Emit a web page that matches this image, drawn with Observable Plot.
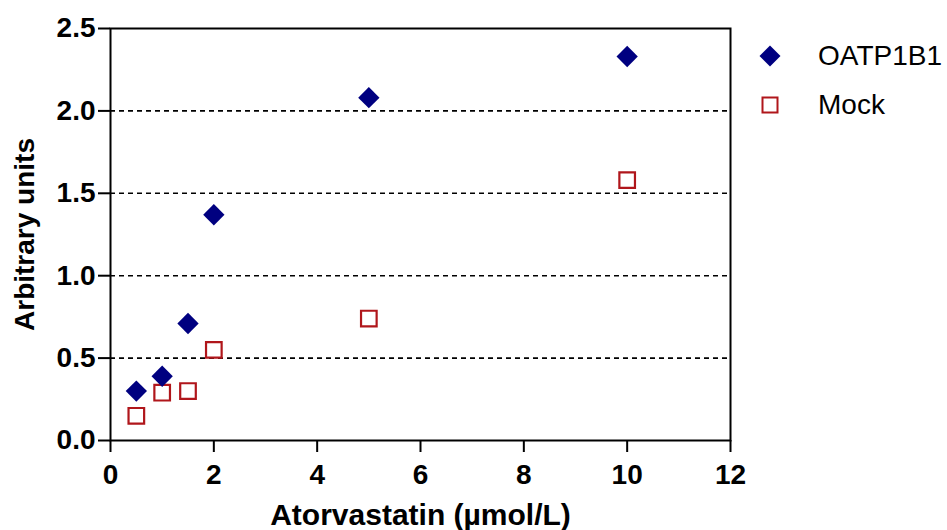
<!DOCTYPE html>
<html>
<head>
<meta charset="utf-8">
<script src="https://cdn.jsdelivr.net/npm/d3@7"></script>
<script src="https://cdn.jsdelivr.net/npm/@observablehq/plot@0.6"></script>
<style>
  html, body { margin: 0; padding: 0; background: #fff; }
  #wrap { position: relative; width: 947px; height: 530px; font-family: "Liberation Sans", Arial, sans-serif; }
  .leg { position: absolute; left: 758px; display: flex; align-items: center; font-size: 28px; color: #000; white-space: nowrap; }
  .leg svg { margin-right: 36px; }
</style>
</head>
<body>
<div id="wrap"></div>
<script>
// Data
const concentrations = [0.5, 1, 1.5, 2, 5, 10];
const oatp1b1 = [0.30, 0.39, 0.71, 1.37, 2.08, 2.33];
const mock = [0.15, 0.29, 0.30, 0.55, 0.74, 1.58];
const seriesNames = ["OATP1B1", "Mock"];
const xTicks = [0, 2, 4, 6, 8, 10, 12];
const yTicks = [0, 0.5, 1.0, 1.5, 2.0, 2.5];
const gridValues = [0.5, 1.0, 1.5, 2.0];
const xTitle = "Atorvastatin (µmol/L)";
const yTitle = "Arbitrary units";

const blue = "#000080";
const red = "#B0161B";

const oatpData = concentrations.map((c, i) => ({x: c, y: oatp1b1[i]}));
const mockData = concentrations.map((c, i) => ({x: c, y: mock[i]}));

const font = "Liberation Sans, Arial, sans-serif";

const chart = Plot.plot({
  width: 947,
  height: 530,
  marginLeft: 110,
  marginRight: 217,
  marginTop: 28,
  marginBottom: 90,
  style: {fontFamily: font, background: "white", overflow: "visible"},
  x: {domain: [0, 12]},
  y: {domain: [0, 2.5]},
  marks: [
    Plot.ruleY(gridValues, {stroke: "black", strokeWidth: 1.6, strokeDasharray: "5,4"}),
    Plot.frame({stroke: "black", strokeWidth: 2}),
    Plot.axisX({ticks: xTicks, tickSize: 12, tickPadding: 12, strokeWidth: 2, fontSize: 28, fontWeight: "bold", fontFamily: font, label: null, fill: "black"}),
    Plot.axisY({ticks: yTicks, tickFormat: d3.format(".1f"), tickSize: 12, tickPadding: 3, strokeWidth: 2, fontSize: 28, fontWeight: "bold", fontFamily: font, label: null, fill: "black"}),
    Plot.text([xTitle], {frameAnchor: "bottom", textAnchor: "middle", lineAnchor: "bottom", dy: 84, fontSize: 30, fontWeight: "bold", fontFamily: font, fill: "black"}),
    Plot.text([yTitle], {frameAnchor: "left", textAnchor: "middle", lineAnchor: "middle", rotate: -90, dx: -85, fontSize: 28, fontWeight: "bold", fontFamily: font, fill: "black"}),
    Plot.dot(mockData, {x: "x", y: "y", symbol: "square", r: 8.8, stroke: red, strokeWidth: 2.2, fill: "none"}),
    Plot.dot(oatpData, {x: "x", y: "y", symbol: "diamond2", r: 9.6, fill: blue, stroke: "none"})
  ]
});

const wrap = document.getElementById("wrap");
wrap.appendChild(chart);

// Legend
const legendItems = [
  {name: seriesNames[0], top: 56, svg: `<svg width="24" height="24" viewBox="-12 -12 24 24"><path d="M0,-10.5L10.5,0L0,10.5L-10.5,0Z" fill="${blue}"/></svg>`},
  {name: seriesNames[1], top: 105, svg: `<svg width="24" height="24" viewBox="-12 -12 24 24"><rect x="-7.5" y="-7.5" width="15" height="15" fill="none" stroke="${red}" stroke-width="2"/></svg>`}
];
legendItems.forEach(item => {
  const div = document.createElement("div");
  div.className = "leg";
  div.style.top = (item.top - 16) + "px";
  div.style.height = "32px";
  div.innerHTML = item.svg + `<span>${item.name}</span>`;
  wrap.appendChild(div);
});
</script>
</body>
</html>
